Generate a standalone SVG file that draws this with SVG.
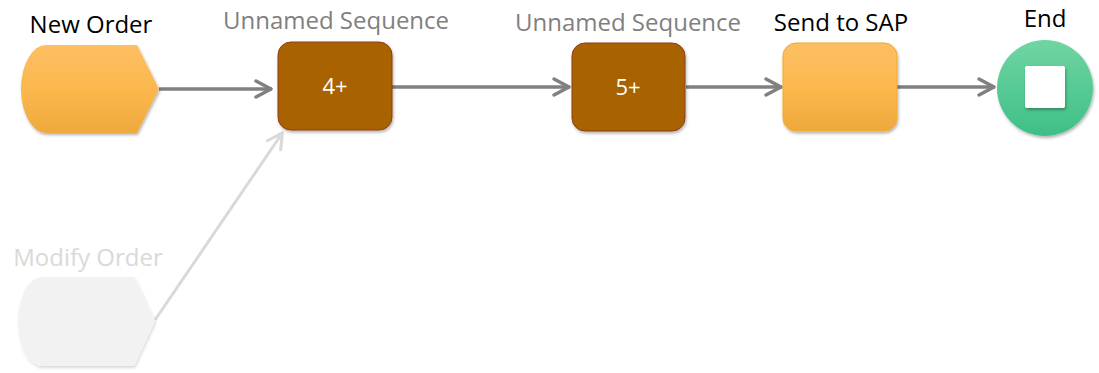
<svg xmlns="http://www.w3.org/2000/svg" width="1099" height="373" viewBox="0 0 1099 373">
<style>
text{font-family:"Open Sans","Noto Sans","DejaVu Sans",sans-serif;text-anchor:middle}
.lbl{font-size:24px;fill:#000}
.seq{font-size:24px;fill:#7f7f7f}
.dim{font-size:24px;fill:#d9d9d9}
.inner{font-size:22px;fill:#fff}
.edge{fill:none;stroke:#808080;stroke-width:3.5}
.edge2{fill:none;stroke:#d9d9d9;stroke-width:3}
</style>
<defs>
<linearGradient id="org" x1="0" y1="0" x2="0" y2="1">
<stop offset="0" stop-color="#fdbf64"/>
<stop offset="0.5" stop-color="#fcb84e"/>
<stop offset="1" stop-color="#eea93c"/>
</linearGradient>
<linearGradient id="grn" x1="0" y1="0" x2="0" y2="1">
<stop offset="0" stop-color="#70d5a3"/>
<stop offset="1" stop-color="#3ebf86"/>
</linearGradient>
<filter id="sh" x="-20%" y="-20%" width="140%" height="140%">
<feDropShadow dx="1" dy="2" stdDeviation="1.5" flood-color="#000" flood-opacity="0.3"/>
</filter>
<filter id="shl" x="-20%" y="-20%" width="140%" height="140%">
<feDropShadow dx="1" dy="2" stdDeviation="1.5" flood-color="#000" flood-opacity="0.15"/>
</filter>
<marker id="ah" markerUnits="userSpaceOnUse" markerWidth="24" markerHeight="24" refX="20" refY="12" orient="auto" viewBox="0 0 24 24">
<path d="M4 4 L19 12 L4 20" fill="none" stroke="#808080" stroke-width="3.5" stroke-linecap="round" stroke-linejoin="round"/>
</marker>
<marker id="ah2" markerUnits="userSpaceOnUse" markerWidth="24" markerHeight="24" refX="20" refY="12" orient="auto" viewBox="0 0 24 24">
<path d="M4 4 L19 12 L4 20" fill="none" stroke="#d9d9d9" stroke-width="3" stroke-linecap="round" stroke-linejoin="round"/>
</marker>
</defs>
<g id="connectors">
<line class="edge" x1="159" y1="89" x2="272" y2="89" marker-end="url(#ah)"/>
<line class="edge" x1="392" y1="87" x2="570" y2="87" marker-end="url(#ah)"/>
<line class="edge" x1="686" y1="87" x2="782" y2="87" marker-end="url(#ah)"/>
<line class="edge" x1="897" y1="87" x2="995" y2="87" marker-end="url(#ah)"/>
<line class="edge2" x1="155" y1="320" x2="283" y2="132" marker-end="url(#ah2)"/>
</g>
<g id="new-order">
<path d="M137 45 L159 89 L137 133 L46 133 A25 44 0 0 1 46 45 Z" fill="url(#org)" filter="url(#sh)"/>
<text class="lbl" x="91" y="33">New Order</text>
</g>
<g id="seq1">
<rect x="278" y="42" width="114" height="88" rx="13" fill="#a86400" stroke="#8f3d18" stroke-width="1" filter="url(#sh)"/>
<text class="seq" x="336" y="29">Unnamed Sequence</text>
<text class="inner" x="335" y="94">4+</text>
</g>
<g id="seq2">
<rect x="572" y="43" width="113" height="88" rx="13" fill="#a86400" stroke="#8f3d18" stroke-width="1" filter="url(#sh)"/>
<text class="seq" x="628" y="31">Unnamed Sequence</text>
<text class="inner" x="628" y="95">5+</text>
</g>
<g id="send-to-sap">
<rect x="783" y="43" width="114" height="88" rx="13" fill="url(#org)" stroke="#f5a82a" stroke-width="1" filter="url(#sh)"/>
<text class="lbl" x="841" y="31">Send to SAP</text>
</g>
<g id="end">
<circle cx="1045" cy="88" r="48" fill="url(#grn)" filter="url(#sh)"/>
<rect x="1025" y="66" width="40" height="42" rx="2" fill="#fff" filter="url(#sh)"/>
<text class="lbl" x="1045" y="27">End</text>
</g>
<g id="modify-order">
<path d="M134 277 L155 321 L134 366 L42 366 A24 44.5 0 0 1 42 277 Z" fill="#f2f2f2" filter="url(#shl)"/>
<text class="dim" x="88" y="266">Modify Order</text>
</g>
</svg>
